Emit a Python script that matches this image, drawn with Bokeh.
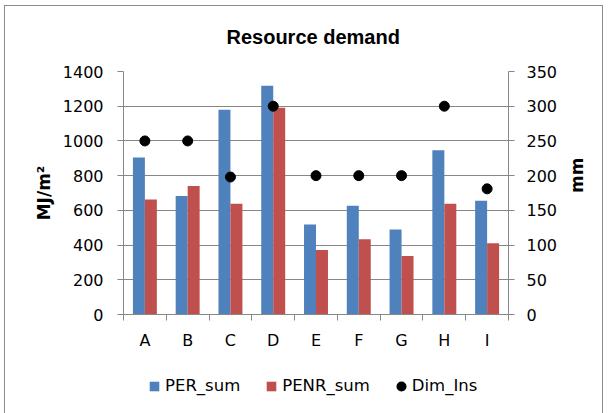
import math
from bokeh.plotting import figure
from bokeh.layouts import column
from bokeh.models import (Range1d, LinearAxis, FixedTicker, SingleIntervalTicker, Grid,
                          ColumnDataSource, Legend, LegendItem)
from bokeh.embed import file_html
from bokeh.resources import INLINE

categories = ["A", "B", "C", "D", "E", "F", "G", "H", "I"]
per_sum = [905, 683, 1180, 1318, 518, 626, 489, 946, 656]
penr_sum = [662, 740, 638, 1191, 371, 433, 337, 638, 411]
dim_ins = [250, 250, 198, 300, 200, 200, 200, 300, 181]
series_names = ["PER_sum", "PENR_sum", "Dim_Ins"]

FONT = "DejaVu Sans"
GRID = "#878787"
EDGE = "#8c8c8c"
BLUE = "#4F81BD"
RED = "#C0504D"

W = 610
H_MAIN = 360
H_LEG = 53

centers = [i + 0.5 for i in range(len(categories))]
src = ColumnDataSource(dict(x=centers, cat=categories, per=per_sum, penr=penr_sum, dim=dim_ins))

# outer chart-area border drawn as inset shadows (white bands hide the outer parts)
side_edges = ("inset 4px 0 0 0 #fff, inset -7px 0 0 0 #fff, "
              f"inset 5px 0 0 0 {EDGE}, inset -8px 0 0 0 {EDGE}")
top_edges = ("inset 4px 0 0 0 #fff, inset 0 5px 0 0 #fff, inset -7px 0 0 0 #fff, "
             f"inset 5px 0 0 0 {EDGE}, inset 0 6px 0 0 {EDGE}, inset -8px 0 0 0 {EDGE}")

p = figure(width=W, height=H_MAIN, output_backend="svg", toolbar_location=None,
           x_range=Range1d(0, len(categories)), y_range=Range1d(0, 1400),
           min_border_left=123, min_border_right=102, min_border_top=71, min_border_bottom=46)
p.styles = {"box-shadow": top_edges}
p.xaxis.visible = False
p.yaxis.visible = False
p.xgrid.visible = False
p.ygrid.visible = False
p.outline_line_color = None
p.background_fill_color = "white"
p.border_fill_color = None

p.title.text = "Resource demand"
p.title.align = "left"
p.title.offset = 103
p.title.standoff = 47
p.title.text_font = "Liberation Sans"
p.title.text_font_size = "20px"
p.title.text_font_style = "bold"
p.title.text_color = "black"

p.extra_y_ranges = {"mm": Range1d(0, 350)}

bw = 0.28
p.vbar(x=[c - bw / 2 for c in centers], top=per_sum, width=bw, bottom=0,
       fill_color=BLUE, line_color=None)
p.vbar(x=[c + bw / 2 for c in centers], top=penr_sum, width=bw, bottom=0,
       fill_color=RED, line_color=None)
p.scatter(x="x", y="dim", source=src, y_range_name="mm", size=10,
          marker="circle", fill_color="black", line_color="black")

ly = LinearAxis(ticker=SingleIntervalTicker(interval=200), axis_label="MJ/m²")
ry = LinearAxis(ticker=SingleIntervalTicker(interval=50), y_range_name="mm", axis_label="mm")
for ax, st, ls in ((ly, 14, 6), (ry, 12, 17)):
    ax.axis_line_color = GRID
    ax.major_tick_line_color = GRID
    ax.major_tick_out = 6
    ax.major_tick_in = 0
    ax.minor_tick_line_color = None
    ax.major_label_text_font = FONT
    ax.major_label_text_font_size = "16px"
    ax.major_label_text_color = "black"
    ax.major_label_standoff = st
    ax.axis_label_text_font = FONT
    ax.axis_label_text_font_size = "17px"
    ax.axis_label_text_font_style = "bold"
    ax.axis_label_text_color = "black"
    ax.axis_label_standoff = ls
ry.axis_label_orientation = math.pi / 2
p.add_layout(ly, "left")
p.add_layout(ry, "right")

xa = LinearAxis(ticker=FixedTicker(ticks=centers, minor_ticks=list(range(len(categories) + 1))))
xa.major_label_overrides = {c: cat for c, cat in zip(centers, categories)}
xa.axis_line_color = GRID
xa.major_tick_line_color = None
xa.major_tick_out = 6
xa.major_tick_in = 0
xa.minor_tick_line_color = GRID
xa.minor_tick_out = 6
xa.minor_tick_in = 0
xa.major_label_text_font = FONT
xa.major_label_text_font_size = "16px"
xa.major_label_text_color = "black"
xa.major_label_standoff = 10
p.add_layout(xa, "below")

g = Grid(dimension=1, ticker=ly.ticker, grid_line_color=GRID, grid_line_width=1)
p.add_layout(g)

# legend strip (separate canvas so the legend is not clipped by the main plot frame);
# its key renderers hold the real series but lie entirely outside this strip's view
lf = figure(width=W, height=H_LEG, output_backend="svg", toolbar_location=None,
            x_range=Range1d(100, 101), y_range=Range1d(5000, 6000),
            min_border_left=123, min_border_right=102, min_border_top=0, min_border_bottom=0)
lf.styles = {"box-shadow": side_edges}
lf.axis.visible = False
lf.grid.visible = False
lf.outline_line_color = None
lf.background_fill_color = None
lf.border_fill_color = None
k1 = lf.vbar(x=centers, top=per_sum, width=bw, bottom=0, fill_color=BLUE, line_color=None)
k2 = lf.vbar(x=centers, top=penr_sum, width=bw, bottom=0, fill_color=RED, line_color=None)
# a round-capped zero-length dash gives a 10px dot as the key of the dot series
k3 = lf.line(x=centers, y=dim_ins, line_color="black", line_width=10, line_cap="round",
             line_dash="0 20", line_dash_offset=14)

leg = Legend(items=[LegendItem(label=n, renderers=[k]) for n, k in zip(series_names, (k1, k2, k3))],
             orientation="horizontal", location=(25, 18), padding=0, margin=0,
             spacing=25, label_standoff=5, glyph_width=12, glyph_height=12,
             border_line_color=None, background_fill_alpha=0,
             label_text_font=FONT, label_text_font_size="16.5px", label_text_color="black")
lf.add_layout(leg, "center")

layout = column(p, lf, spacing=0)
open("out.html", "w").write(file_html(layout, INLINE))
